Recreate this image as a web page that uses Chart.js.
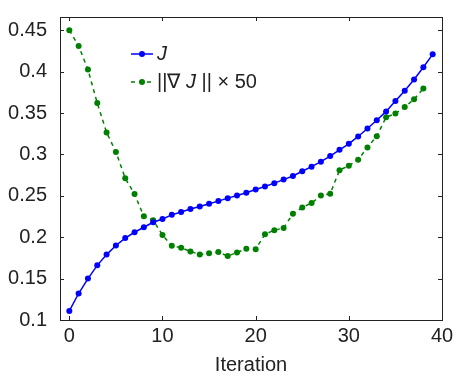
<!DOCTYPE html>
<html>
<head>
<meta charset="utf-8">
<script src="https://cdn.jsdelivr.net/npm/chart.js@4"></script>
<style>
  body { margin: 0; background: #fff; }
  canvas { display: block; }
</style>
</head>
<body>
<canvas id="c" width="460" height="377"></canvas>
<script>
// iterations for each series
const iterJ = [0,1,2,3,4,5,6,7,8,9,10,11,12,13,14,15,16,17,18,19,20,21,22,23,24,25,26,27,28,29,30,31,32,33,34,35,36,37,38,39];
const iterGrad = [0,1,2,3,4,5,6,7,8,9,10,11,12,13,14,15,16,17,18,19,20,21,22,23,24,25,26,27,28,29,30,31,32,33,34,35,36,37,38];

// J values
const jValues = [0.111, 0.132, 0.150, 0.166, 0.179, 0.190, 0.199, 0.206, 0.212, 0.218,
  0.222, 0.227, 0.2305, 0.234, 0.237, 0.2405, 0.2436, 0.2472, 0.2504, 0.2537,
  0.2577, 0.2613, 0.2653, 0.2696, 0.274, 0.2797, 0.2852, 0.2912, 0.298, 0.3056,
  0.3128, 0.3217, 0.3313, 0.3413, 0.352, 0.3645, 0.377, 0.3905, 0.4053, 0.4209];

// ||grad J|| x 50 values
const gradValues = [0.450, 0.431, 0.4025, 0.362, 0.3265, 0.303, 0.2713, 0.2521, 0.2252, 0.2205,
  0.2027, 0.1897, 0.1873, 0.1828, 0.1792, 0.1806, 0.182, 0.1772, 0.1816, 0.1861,
  0.1856, 0.2036, 0.2084, 0.2112, 0.2284, 0.236, 0.2413, 0.2504, 0.2525, 0.2809,
  0.2864, 0.2936, 0.3085, 0.3221, 0.3449, 0.3493, 0.3573, 0.3665, 0.3797];

const xTicks = [0, 10, 20, 30, 40];
const yTicks = [0.1, 0.15, 0.2, 0.25, 0.3, 0.35, 0.4, 0.45];
const yTickLabels = ["0.1", "0.15", "0.2", "0.25", "0.3", "0.35", "0.4", "0.45"];

const textColor = "#222";
const font = "Liberation Sans, Arial, Helvetica, sans-serif";

// frame box with inward ticks on all four sides, MATLAB style
const framePlugin = {
  id: "frame",
  afterDatasetsDraw(chart) {
    const { ctx, chartArea: a, scales } = chart;
    ctx.save();
    ctx.strokeStyle = "#222";
    ctx.lineWidth = 1;
    ctx.strokeRect(a.left + 0.5, a.top + 0.5, a.right - a.left, a.bottom - a.top);
    const len = 4;
    ctx.beginPath();
    xTicks.forEach(v => {
      const px = Math.round(scales.x.getPixelForValue(v)) + 0.5;
      ctx.moveTo(px, a.bottom); ctx.lineTo(px, a.bottom - len);
      ctx.moveTo(px, a.top); ctx.lineTo(px, a.top + len);
    });
    yTicks.forEach(v => {
      const py = Math.round(scales.y.getPixelForValue(v)) + 0.5;
      ctx.moveTo(a.left, py); ctx.lineTo(a.left + len, py);
      ctx.moveTo(a.right, py); ctx.lineTo(a.right - len, py);
    });
    ctx.stroke();
    ctx.restore();
  }
};

// legend drawn inside the plot area
const legendPlugin = {
  id: "innerLegend",
  afterDraw(chart) {
    const { ctx } = chart;
    const x0 = 131, x1 = 153, tx = 157;
    const rows = [
      { y: 54, color: "#0000ff", dash: [], parts: [["J", true]] },
      { y: 82, color: "#008000", dash: [4, 4], parts: [["||\u2207 ", false], ["J", true], [" || \u00d7 50", false]] }
    ];
    ctx.save();
    rows.forEach(r => {
      ctx.strokeStyle = r.color;
      ctx.lineWidth = 1.5;
      ctx.setLineDash(r.dash);
      ctx.beginPath();
      ctx.moveTo(x0, r.y); ctx.lineTo(x1, r.y);
      ctx.stroke();
      ctx.setLineDash([]);
      ctx.fillStyle = r.color;
      ctx.beginPath();
      ctx.arc((x0 + x1) / 2, r.y, 3, 0, Math.PI * 2);
      ctx.fill();
      ctx.fillStyle = textColor;
      ctx.textBaseline = "middle";
      let x = tx;
      r.parts.forEach(([t, it]) => {
        ctx.font = (it ? "italic " : "") + "20px " + font;
        ctx.fillText(t, x, r.y);
        x += ctx.measureText(t).width;
      });
    });
    ctx.restore();
  }
};

new Chart(document.getElementById("c"), {
  type: "scatter",
  data: {
    datasets: [
      {
        label: "J",
        data: iterJ.map((x, i) => ({ x: x, y: jValues[i] })),
        showLine: true,
        borderColor: "#0000ff",
        backgroundColor: "#0000ff",
        borderWidth: 1.5,
        pointRadius: 3,
        pointBorderWidth: 0,
      },
      {
        label: "||\u2207 J || \u00d7 50",
        data: iterGrad.map((x, i) => ({ x: x, y: gradValues[i] })),
        showLine: true,
        borderColor: "#008000",
        backgroundColor: "#008000",
        borderWidth: 1.5,
        borderDash: [4, 4],
        pointRadius: 3,
        pointBorderWidth: 0,
      },
    ],
  },
  options: {
    responsive: false,
    animation: false,
    devicePixelRatio: 1,
    layout: { padding: { top: 15, right: 18, left: 0, bottom: 0 } },
    plugins: {
      legend: { display: false },
      tooltip: { enabled: false },
    },
    scales: {
      x: {
        type: "linear",
        min: -1,
        max: 40,
        grid: { display: false },
        border: { display: false },
        afterBuildTicks: s => { s.ticks = xTicks.map(v => ({ value: v })); },
        afterFit: s => { s.height = 57; },
        ticks: {
          color: textColor,
          padding: -4,
          maxRotation: 0,
          font: { size: 20, family: font },
          callback: v => String(v),
        },
        title: {
          display: true,
          text: "Iteration",
          color: textColor,
          padding: { top: 0, bottom: 0 },
          font: { size: 20, family: font },
        },
      },
      y: {
        min: 0.1,
        max: 0.466,
        grid: { display: false },
        border: { display: false },
        afterBuildTicks: s => { s.ticks = yTicks.map(v => ({ value: v })); },
        afterFit: s => { s.width = 60; },
        ticks: {
          color: textColor,
          padding: 5,
          font: { size: 20, family: font },
          callback: v => yTickLabels[yTicks.findIndex(t => Math.abs(t - v) < 1e-9)],
        },
      },
    },
  },
  plugins: [framePlugin, legendPlugin],
});
</script>
</body>
</html>
